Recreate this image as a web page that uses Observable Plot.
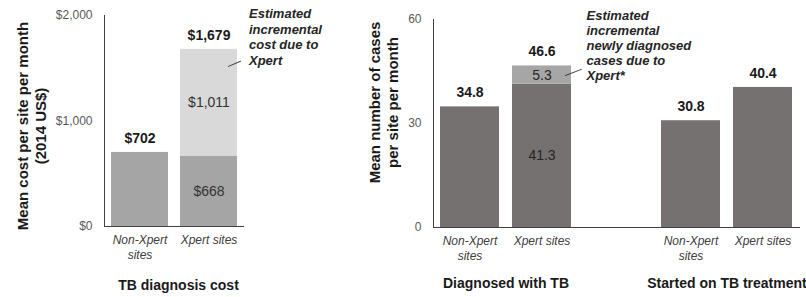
<!DOCTYPE html>
<html><head><meta charset="utf-8">
<script src="https://cdn.jsdelivr.net/npm/d3@7"></script>
<script src="https://cdn.jsdelivr.net/npm/@observablehq/plot@0.6"></script>
<style>
body{margin:0;background:#fff;font-family:"Liberation Sans",Arial,sans-serif;}
#wrap{position:relative;width:806px;height:297px;overflow:hidden;}
#left{position:absolute;left:0;top:0;}
#right{position:absolute;left:340px;top:0;}
svg{overflow:visible}
</style></head><body>
<div id="wrap"><div id="left"></div><div id="right"></div></div>
<script>
// ---- shared categories ----
const sites = ["Non-Xpert sites", "Xpert sites"];
const siteTickLabels = ["Non-Xpert\nsites", "Xpert sites"];

// ---- cost chart data (2014 US$) ----
const costBase = [702, 668];
const costIncrement = [0, 1011];
const costTotal = [702, 1679];
const costTicks = [0, 1000, 2000];
const costTickLabels = ["$0", "$1,000", "$2,000"];

// ---- cases chart data ----
const groups = ["Diagnosed with TB", "Started on TB treatment"];
const casesBase = [[34.8, 41.3], [30.8, 40.4]];
const casesIncrement = [[0, 5.3], [0, 0]];
const casesTotal = [[34.8, 46.6], [30.8, 40.4]];
const casesTicks = [0, 30, 60];

const FONT = "Liberation Sans, Arial, sans-serif";
const noLine = {draw(ctx, l) { ctx.moveTo(0, 0); ctx.lineTo(0, -l); }};
const money = v => "$" + d3.format(",")(v);

// ---- build cost rows ----
const costRows = [];
sites.forEach((s, i) => {
  const stacked = costIncrement[i] > 0;
  costRows.push({site: s, seg: "base", y1: 0, y2: costBase[i], v: costBase[i], stacked});
  if (stacked) costRows.push({site: s, seg: "inc", y1: costBase[i], y2: costBase[i] + costIncrement[i], v: costIncrement[i], stacked});
});
const costTotals = sites.map((s, i) => ({site: s, total: costTotal[i]}));
const costColors = {base: "#a5a5a5", inc: "#d9d9d9"};

const left = Plot.plot({
  width: 340, height: 297,
  marginLeft: 104, marginRight: 96, marginTop: 15, marginBottom: 71,
  style: {fontFamily: FONT, background: "transparent", overflow: "visible"},
  x: {domain: sites, paddingInner: 0.174, paddingOuter: 0.1},
  y: {domain: [0, 2000]},
  color: {type: "identity"},
  marks: [
    Plot.barY(costRows, {x: "site", y1: "y1", y2: "y2", fill: d => costColors[d.seg]}),
    Plot.frame({anchor: "left", stroke: "#404040"}),
    Plot.ruleY([0], {stroke: "#404040"}),
    Plot.axisY({ticks: costTicks, tickFormat: d => costTickLabels[costTicks.indexOf(d)], tickSize: 0, tickPadding: 12, label: null, fontSize: 12, fill: "#595959"}),
    Plot.axisX({tickSize: 0, tickPadding: 7, tickFormat: d => siteTickLabels[sites.indexOf(d)], fontStyle: "italic", fontSize: 12, lineHeight: 1.25, label: null, fill: "#404040"}),
    Plot.text(costRows.filter(d => d.stacked), {x: "site", y: d => (d.y1 + d.y2) / 2, text: d => money(d.v), fontSize: 14, fill: "#333"}),
    Plot.text(costTotals, {x: "site", y: "total", text: d => money(d.total), dy: -14, fontSize: 14, fontWeight: "bold", fill: "#1a1a1a"}),
    Plot.text(["Mean cost per site per month\n(2014 US$)"], {frameAnchor: "left", textAnchor: "middle", lineAnchor: "middle", rotate: -90, dx: -73, dy: 5, fontSize: 15, fontWeight: "bold", lineHeight: 1.2, fill: "#1a1a1a"}),
    Plot.text(["TB diagnosis cost"], {frameAnchor: "bottom", lineAnchor: "middle", dy: 59, dx: 4, fontSize: 14, fontWeight: "bold", fill: "#1a1a1a"}),
    Plot.text([{site: "Xpert sites", y: costTotal[1]}], {x: "site", y: "y", text: () => "Estimated\nincremental\ncost due to\nXpert", textAnchor: "start", lineAnchor: "middle", dx: 40, dy: -13, fontSize: 13, fontWeight: "bold", fontStyle: "italic", lineHeight: 15.5 / 13, fill: "#262626"}),
    Plot.vector([{site: "Xpert sites", y: costTotal[1]}], {x: "site", y: "y", length: 13, rotate: 67, anchor: "start", dx: 19.5, dy: 17, stroke: "#404040", strokeWidth: 1, shape: noLine})
  ]
});
document.getElementById("left").append(left);

// ---- build cases rows ----
const caseRows = [];
const caseTotals = [];
groups.forEach((g, gi) => sites.forEach((s, si) => {
  const b = casesBase[gi][si], inc = casesIncrement[gi][si], stacked = inc > 0;
  caseRows.push({group: g, site: s, seg: "base", y1: 0, y2: b, v: b, stacked});
  if (stacked) caseRows.push({group: g, site: s, seg: "inc", y1: b, y2: b + inc, v: inc, stacked});
  caseTotals.push({group: g, site: s, total: casesTotal[gi][si]});
}));
const caseColors = {base: "#767171", inc: "#a6a6a6"};
const f1 = d3.format(".1f");

const right = Plot.plot({
  width: 466, height: 297,
  marginLeft: 93, marginRight: 0, marginTop: 19, marginBottom: 70,
  style: {fontFamily: FONT, background: "transparent", overflow: "visible"},
  fx: {domain: groups, paddingInner: 0.3423, paddingOuter: 0.0113, align: 0},
  x: {domain: sites, paddingInner: 0.18, paddingOuter: 0.09},
  y: {domain: [0, 60]},
  color: {type: "identity"},
  marks: [
    Plot.barY(caseRows, {fx: "group", x: "site", y1: "y1", y2: "y2", fill: d => caseColors[d.seg]}),
    Plot.frame({anchor: "left", stroke: "#404040", facet: "super"}),
    Plot.frame({anchor: "bottom", stroke: "#404040", facet: "super"}),
    Plot.axisY({ticks: casesTicks, tickSize: 0, tickPadding: 12, label: null, fontSize: 12, fill: "#595959"}),
    Plot.axisX({tickSize: 0, tickPadding: 7, tickFormat: d => siteTickLabels[sites.indexOf(d)], fontStyle: "italic", fontSize: 12, lineHeight: 1.25, label: null, fill: "#404040"}),
    Plot.axisFx({anchor: "bottom", tickSize: 0, tickPadding: 51, label: null, fontSize: 14, fontWeight: "bold", fill: "#1a1a1a"}),
    Plot.text(caseRows.filter(d => d.stacked), {fx: "group", x: "site", y: d => (d.y1 + d.y2) / 2, text: d => f1(d.v), fontSize: 14, fill: "#262626"}),
    Plot.text(caseTotals, {fx: "group", x: "site", y: "total", text: d => f1(d.total), dy: -14, fontSize: 14, fontWeight: "bold", fill: "#1a1a1a"}),
    Plot.text(["Mean number of cases\nper site per month"], {facet: "super", frameAnchor: "left", textAnchor: "middle", lineAnchor: "middle", rotate: -90, dx: -50.5, dy: -21, fontSize: 15, fontWeight: "bold", lineHeight: 1.2, fill: "#1a1a1a"}),
    Plot.text([{group: groups[0], site: "Xpert sites", y: casesTotal[0][1]}], {fx: "group", x: "site", y: "y", text: () => "Estimated\nincremental\nnewly diagnosed\ncases due to\nXpert*", textAnchor: "start", lineAnchor: "middle", dx: 44.5, dy: -21, fontSize: 13, fontWeight: "bold", fontStyle: "italic", lineHeight: 15 / 13, fill: "#262626"}),
    Plot.vector([{group: groups[0], site: "Xpert sites", y: casesTotal[0][1]}], {fx: "group", x: "site", y: "y", length: 17, rotate: 69, anchor: "start", dx: 23.5, dy: 9.5, stroke: "#404040", strokeWidth: 1, shape: noLine})
  ]
});
document.getElementById("right").append(right);
</script>
</body></html>
